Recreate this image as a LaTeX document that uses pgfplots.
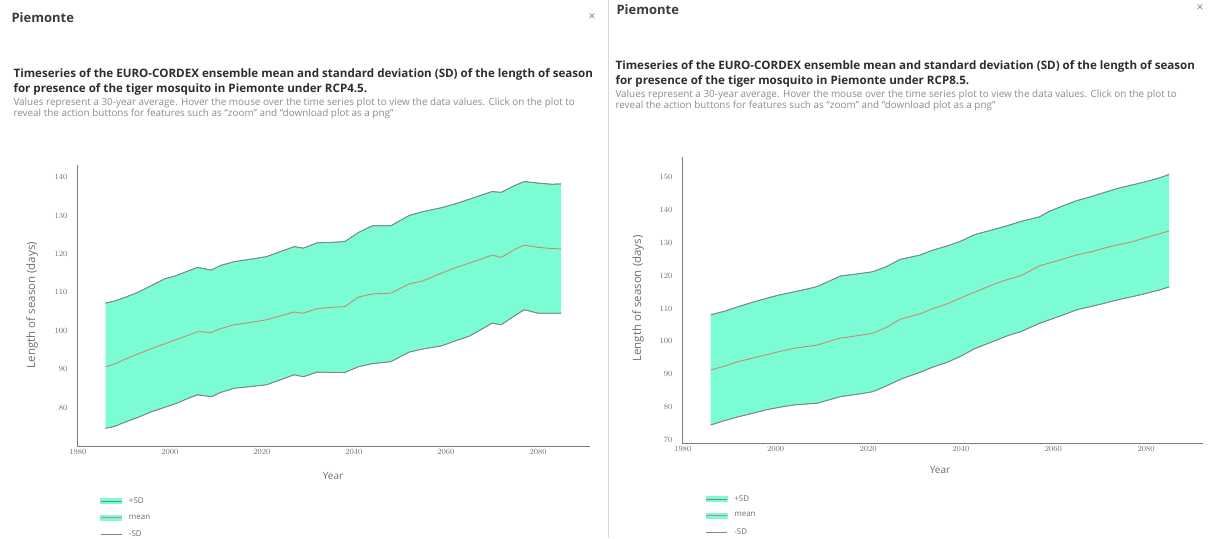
\documentclass[border=0pt]{standalone}
\usepackage{fontspec}
\setmainfont{Open Sans}
\usepackage{pgfplots}
\pgfplotsset{compat=1.18}
\usepackage{pgfplotstable}
\usepgfplotslibrary{fillbetween}

\definecolor{aqua}{RGB}{124,252,212}
\definecolor{sdline}{RGB}{118,140,130}
\definecolor{meanline}{RGB}{198,140,112}
\definecolor{axisgray}{RGB}{125,125,125}
\definecolor{tickgray}{RGB}{110,110,110}
\definecolor{titlegray}{RGB}{60,60,60}
\definecolor{capgray}{RGB}{45,45,45}
\definecolor{descgray}{RGB}{140,140,140}

\pgfplotstableread{
year up mean lo
1986 107.2 90.7 74.7
1988 107.8 91.4 75.2
1990 108.6 92.5 76.2
1993 110.0 94.0 77.5
1996 111.8 95.4 79.0
1999 113.6 96.7 80.2
2001 114.2 97.6 81.0
2004 115.6 98.9 82.5
2006 116.5 99.8 83.4
2009 115.8 99.6 82.9
2011 117.0 100.6 84.0
2014 118.0 101.6 85.1
2018 118.7 102.3 85.6
2021 119.3 102.9 86.0
2024 120.6 103.9 87.3
2027 121.9 104.9 88.6
2029 121.5 104.6 88.1
2032 122.9 105.8 89.3
2035 123.0 106.1 89.2
2038 123.2 106.3 89.2
2041 125.6 108.8 90.7
2044 127.3 109.6 91.5
2048 127.3 109.8 92.0
2052 130.0 112.2 94.5
2055 131.0 113.0 95.3
2059 132.0 115.0 96.1
2062 133.0 116.4 97.4
2065 134.2 117.6 98.6
2068 135.4 118.8 100.6
2070 136.2 119.7 102.0
2072 136.0 119.1 101.6
2075 137.8 121.2 104.0
2077 138.8 122.3 105.5
2080 138.4 121.7 104.6
2083 138.1 121.4 104.6
2085 138.2 121.3 104.6
}\dataA

\pgfplotstableread{
year up mean lo
1986 108.1 91.3 74.6
1989 109.2 92.5 75.9
1992 110.6 93.9 77.1
1995 111.9 94.9 78.1
1998 113.1 95.9 79.2
2001 114.2 97.0 80.0
2004 115.1 97.9 80.7
2007 116.0 98.5 81.0
2009 116.7 98.9 81.2
2012 118.6 100.2 82.4
2014 119.9 101.0 83.2
2018 120.6 101.8 84.0
2021 121.2 102.5 84.7
2024 122.8 104.3 86.5
2027 125.0 106.8 88.5
2031 126.2 108.3 90.5
2034 127.8 110.0 92.2
2037 129.0 111.4 93.6
2040 130.5 113.2 95.5
2043 132.5 115.0 97.8
2047 134.0 117.3 100.0
2050 135.2 118.8 101.7
2053 136.5 120.0 103.0
2057 137.9 123.0 105.5
2059 139.5 123.8 106.5
2062 141.2 125.0 108.0
2065 142.8 126.3 109.6
2068 144.0 127.2 110.6
2071 145.3 128.4 111.6
2074 146.6 129.4 112.7
2077 147.6 130.3 113.6
2080 148.6 131.6 114.6
2083 149.8 132.8 115.7
2085 150.8 133.6 116.6
}\dataB

\pgfplotsset{
  myaxis/.style={
    scale only axis,
    axis x line=bottom, axis y line=left,
    axis line style={-, draw=axisgray, line width=0.8pt},
    major tick length=0pt,
    tick style={draw=none},
    xtick={1980,2000,...,2080},
    ticklabel style={font=\fontsize{8}{9}\selectfont, text=tickgray},
    x tick label style={/pgf/number format/1000 sep={}},
    y tick label style={xshift=-6pt},
    clip=false,
    legend cell align=left,
    legend style={draw=none, fill=none, font=\fontsize{8}{9}\selectfont, text=tickgray,
      anchor=north west, row sep=6pt, column sep=5pt, inner sep=0pt},
  },
  sdimg/.style={legend image code/.code={
      \fill[aqua] (0pt,-2.5pt) rectangle (21pt,2.5pt);
      \draw[sdline, line width=0.7pt] (0pt,0pt) -- (21pt,0pt);}},
  meanimg/.style={legend image code/.code={
      \fill[aqua] (0pt,-2.5pt) rectangle (21pt,2.5pt);
      \draw[meanline, line width=0.7pt] (0pt,0pt) -- (21pt,0pt);}},
  loimg/.style={legend image code/.code={
      \draw[sdline, line width=0.7pt] (0pt,0pt) -- (21pt,0pt);}},
}

\begin{document}
\begin{tikzpicture}
\draw[gray!30, line width=1pt] (608.5pt,0pt) -- (608.5pt,538pt);

% ---------- left panel ----------
\node[anchor=west, font=\fontsize{13}{15}\selectfont\bfseries, text=titlegray] at (8pt,520pt) {Piemonte};
\node[font=\fontsize{12}{12}\selectfont, text=gray] at (592pt,521pt) {×};
\node[anchor=west, font=\fontsize{11.6}{13}\selectfont\bfseries, text=capgray] at (10pt,464pt)
  {Timeseries of the EURO-CORDEX ensemble mean and standard deviation (SD) of the length of season};
\node[anchor=west, font=\fontsize{11.6}{13}\selectfont\bfseries, text=capgray] at (10pt,449pt)
  {for presence of the tiger mosquito in Piemonte under RCP4.5.};
\node[anchor=west, font=\fontsize{9.9}{11}\selectfont, text=descgray] at (10pt,435.5pt)
  {Values represent a 30-year average. Hover the mouse over the time series plot to view the data values. Click on the plot to};
\node[anchor=west, font=\fontsize{9.9}{11}\selectfont, text=descgray] at (10pt,424.5pt)
  {reveal the action buttons for features such as “zoom” and “download plot as a png”};
\node[rotate=90, font=\fontsize{11.5}{13}\selectfont, text=tickgray] at (32pt,233pt) {Length of season (days)};
\node[font=\fontsize{10}{12}\selectfont, text=tickgray] at (333pt,62pt) {Year};

\begin{axis}[myaxis, at={(77pt,92pt)}, anchor=south west,
  width=513pt, height=281pt,
  xmin=1979.8, xmax=2091.3, ymin=70.1, ymax=143.1,
  ytick={80,90,...,140},
  legend style={at={(0.045,-0.175)}}]
  \addplot[name path=upA, sdline, line width=0.8pt, forget plot] table[x=year,y=up]{\dataA};
  \addplot[name path=loA, sdline, line width=0.8pt, forget plot] table[x=year,y=lo]{\dataA};
  \addplot[aqua, forget plot] fill between[of=upA and loA];
  \addplot[sdline, line width=0.7pt, forget plot] table[x=year,y=up]{\dataA};
  \addplot[sdline, line width=0.7pt, forget plot] table[x=year,y=lo]{\dataA};
  \addplot[meanline, line width=0.9pt, forget plot] table[x=year,y=mean]{\dataA};
  \addlegendimage{sdimg}\addlegendentry{+SD}
  \addlegendimage{meanimg}\addlegendentry{mean}
  \addlegendimage{loimg}\addlegendentry{-SD}
\end{axis}

% ---------- right panel ----------
\node[anchor=west, font=\fontsize{13}{15}\selectfont\bfseries, text=titlegray] at (613pt,528pt) {Piemonte};
\node[font=\fontsize{12}{12}\selectfont, text=gray] at (1200pt,530pt) {×};
\node[anchor=west, font=\fontsize{11.6}{13}\selectfont\bfseries, text=capgray] at (612pt,472pt)
  {Timeseries of the EURO-CORDEX ensemble mean and standard deviation (SD) of the length of season};
\node[anchor=west, font=\fontsize{11.6}{13}\selectfont\bfseries, text=capgray] at (612pt,457pt)
  {for presence of the tiger mosquito in Piemonte under RCP8.5.};
\node[anchor=west, font=\fontsize{9.9}{11}\selectfont, text=descgray] at (612pt,443.5pt)
  {Values represent a 30-year average. Hover the mouse over the time series plot to view the data values. Click on the plot to};
\node[anchor=west, font=\fontsize{9.9}{11}\selectfont, text=descgray] at (612pt,432.5pt)
  {reveal the action buttons for features such as “zoom” and “download plot as a png”};
\node[rotate=90, font=\fontsize{11.5}{13}\selectfont, text=tickgray] at (638pt,239.5pt) {Length of season (days)};
\node[font=\fontsize{10}{12}\selectfont, text=tickgray] at (940pt,68pt) {Year};

\begin{axis}[myaxis, at={(682pt,95pt)}, anchor=south west,
  width=521pt, height=286pt,
  xmin=1979.8, xmax=2092.3, ymin=69.1, ymax=156.1,
  ytick={70,80,...,150},
  legend style={at={(0.045,-0.175)}}]
  \addplot[name path=upB, sdline, line width=0.8pt, forget plot] table[x=year,y=up]{\dataB};
  \addplot[name path=loB, sdline, line width=0.8pt, forget plot] table[x=year,y=lo]{\dataB};
  \addplot[aqua, forget plot] fill between[of=upB and loB];
  \addplot[sdline, line width=0.7pt, forget plot] table[x=year,y=up]{\dataB};
  \addplot[sdline, line width=0.7pt, forget plot] table[x=year,y=lo]{\dataB};
  \addplot[meanline, line width=0.9pt, forget plot] table[x=year,y=mean]{\dataB};
  \addlegendimage{sdimg}\addlegendentry{+SD}
  \addlegendimage{meanimg}\addlegendentry{mean}
  \addlegendimage{loimg}\addlegendentry{-SD}
\end{axis}
\pgfresetboundingbox
\path (0pt,0pt) rectangle (1212pt,538pt);
\end{tikzpicture}
\end{document}
